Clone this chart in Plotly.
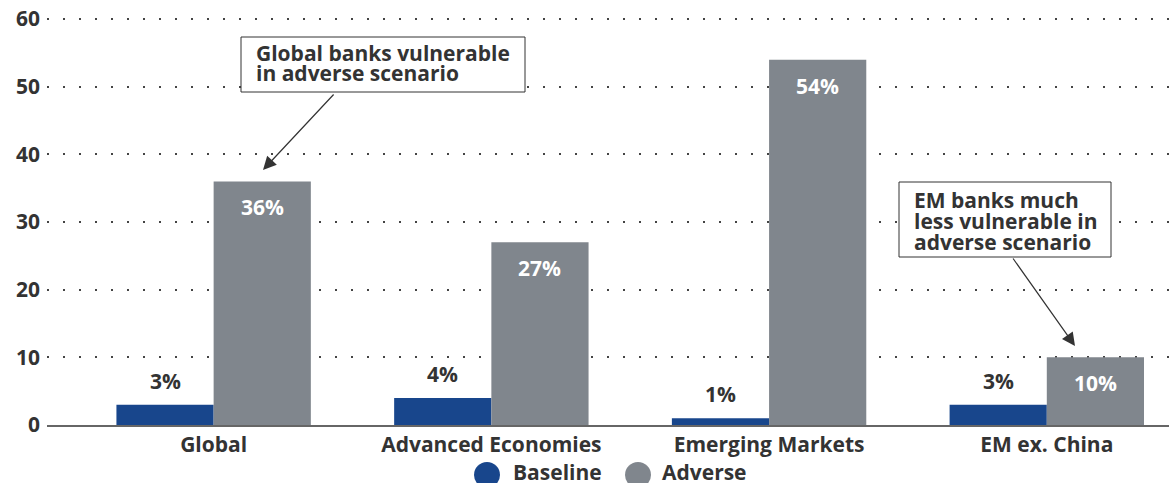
import plotly.graph_objects as go

# Data
categories = ["Global", "Advanced Economies", "Emerging Markets", "EM ex. China"]
baseline = [3, 4, 1, 3]
adverse = [36, 27, 54, 10]
y_ticks = [0, 10, 20, 30, 40, 50, 60]

BLUE = "#18468c"
GREY = "#80868d"
DARK = "#333333"
FONT = "Open Sans"
FS = 21
HALF = 0.175  # half of one bar's width in category units (bargap 0.3, 2 bars)

W, H = 1169, 483
ML, MR, MT, MB = 47, 0, 17, 58


def px(x):
    """pixel x -> paper x"""
    return (x - ML) / (W - ML - MR)


def py(y):
    """pixel y -> paper y"""
    return (H - MB - y) / (H - MT - MB)


def bold(color=DARK, size=FS):
    return dict(family=FONT, size=size, color=color, weight=700)


fig = go.Figure()
fig.add_trace(go.Bar(x=categories, y=baseline, name="Baseline",
                     marker=dict(color=BLUE, line=dict(width=0))))
fig.add_trace(go.Bar(x=categories, y=adverse, name="Adverse",
                     marker=dict(color=GREY, line=dict(width=0))))

annotations = []
shapes = []

# value labels: baseline above its bar, adverse inside near the top
for i, (b, a) in enumerate(zip(baseline, adverse)):
    annotations.append(dict(x=i - HALF, y=b, xref="x", yref="y", yshift=24,
                            text=f"{b}%", showarrow=False, font=bold()))
    annotations.append(dict(x=i + HALF, y=a, xref="x", yref="y", yshift=-26,
                            text=f"{a}%", showarrow=False, font=bold("white")))

# callouts: box, text lines and arrow
callouts = [
    dict(box=(241, 37, 525, 92), text_x=254, line_y=[53, 73],
         lines=["Global banks vulnerable", "in adverse scenario"],
         tail=(335, 93), head=(263, 170)),
    dict(box=(899, 182, 1111, 257), text_x=912, line_y=[199.5, 220.5, 241.5],
         lines=["EM banks much", "less vulnerable in", "adverse scenario"],
         tail=(1012, 257), head=(1075, 346)),
]
for c in callouts:
    x0, y0, x1, y1 = c["box"]
    shapes.append(dict(type="rect", xref="paper", yref="paper",
                       x0=px(x0), x1=px(x1), y0=py(y1), y1=py(y0),
                       line=dict(color=DARK, width=1), fillcolor="white",
                       layer="above"))
    for ty, line in zip(c["line_y"], c["lines"]):
        annotations.append(dict(x=px(c["text_x"]), y=py(ty), xref="paper", yref="paper",
                                xanchor="left", yanchor="middle", text=line,
                                showarrow=False, font=bold()))
    hx, hy = c["head"]
    tx, ty = c["tail"]
    annotations.append(dict(x=px(hx), y=py(hy), xref="paper", yref="paper",
                            text="", showarrow=True, ax=tx - hx, ay=ty - hy,
                            arrowhead=2, arrowsize=2.2, arrowwidth=1.2,
                            arrowcolor=DARK))

# manual legend with large round markers
legend_items = [("Baseline", BLUE, 487, 511), ("Adverse", GREY, 638, 660)]
for label, color, cx, tx in legend_items:
    shapes.append(dict(type="circle", xref="paper", yref="paper",
                       xsizemode="pixel", ysizemode="pixel",
                       xanchor=px(cx), yanchor=py(475), x0=-13, x1=13, y0=-13, y1=13,
                       fillcolor=color, line=dict(width=0)))
    annotations.append(dict(x=px(tx), y=py(472), xref="paper", yref="paper",
                            xanchor="left", yanchor="middle", text=label,
                            showarrow=False, font=bold()))

fig.update_layout(
    width=W, height=H,
    margin=dict(l=ML, r=MR, t=MT, b=MB),
    barmode="group", bargap=0.3, bargroupgap=0,
    plot_bgcolor="white", paper_bgcolor="white",
    font=dict(family=FONT, size=FS, color=DARK),
    annotations=annotations, shapes=shapes,
    showlegend=False,
)
fig.update_xaxes(
    type="category", range=[-0.6, 3.44],
    showline=True, linecolor="#666666", linewidth=2,
    showgrid=False, ticks="",
    tickfont=bold(),
)
fig.update_yaxes(
    range=[0, 60.3], tickvals=y_ticks,
    showgrid=True, gridcolor="#444444", gridwidth=2, griddash="2px,14px",
    zeroline=False, ticks="", ticklabelstandoff=6,
    tickfont=bold(),
)

fig.write_html("out.html", config={"displayModeBar": False},
               post_script="document.body.style.margin='0';")
